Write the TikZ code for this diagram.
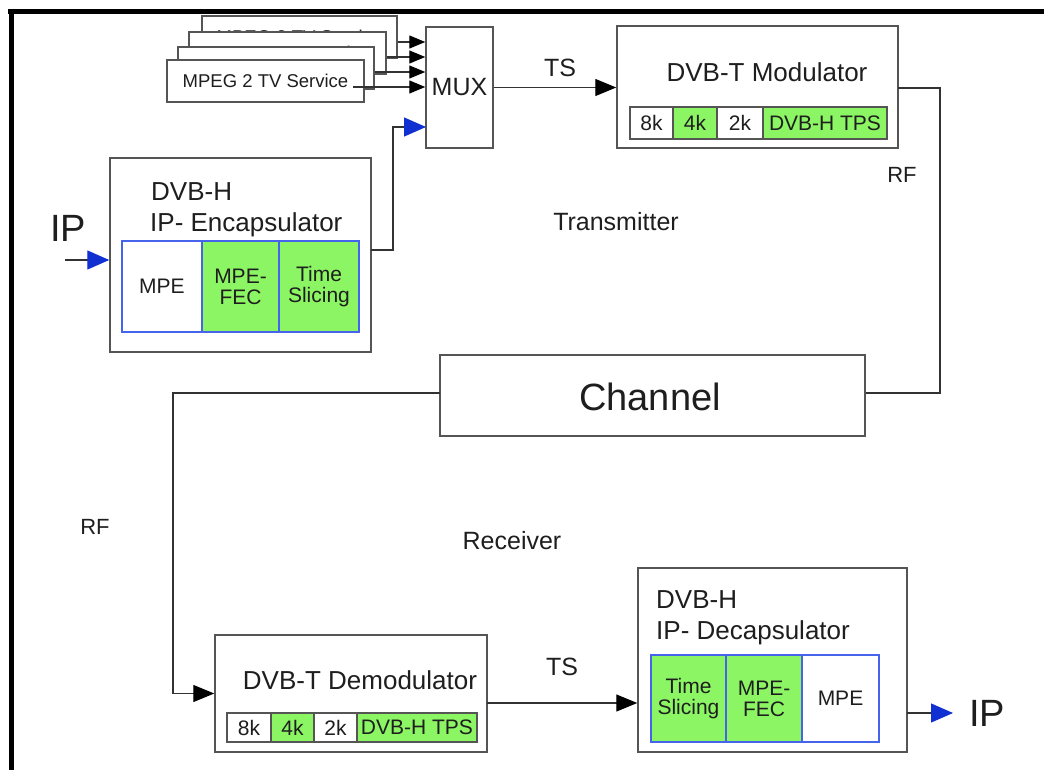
\documentclass[tikz,border=0pt]{standalone}
\usepackage{fontspec}
\setmainfont{Liberation Sans}
\usetikzlibrary{arrows.meta}
\definecolor{gfill}{RGB}{140,245,100}
\definecolor{cellblue}{RGB}{70,100,235}
\definecolor{arrblue}{RGB}{16,48,210}
\definecolor{boxgray}{RGB}{85,85,85}
\definecolor{linegray}{RGB}{50,50,50}
\definecolor{txt}{RGB}{30,30,30}
\newcommand{\fs}[1]{\fontsize{#1}{#1}\selectfont}
\tikzset{
  box/.style={draw=boxgray, line width=1.5pt, fill=white, inner sep=0pt, rectangle},
  cell/.style={draw=boxgray, line width=1.2pt, inner sep=0pt, rectangle, text=txt, font=\fs{21}},
  bcell/.style={draw=cellblue, line width=1.2pt, inner sep=0pt, rectangle, text=txt, font=\fs{21}, align=center},
  conn/.style={draw=linegray, line width=1.3pt},
  arr/.style={conn, -{Triangle[length=21pt,width=17pt,color=black]}},
  sarr/.style={conn, -{Triangle[length=16pt,width=13pt,color=black]}},
  barr/.style={conn, -{Triangle[length=22pt,width=19pt,color=arrblue]}},
  lbl/.style={text=txt, inner sep=0pt},
}
\begin{document}
\begin{tikzpicture}[x=1pt,y=-1pt]
\useasboundingbox (0,0) rectangle (1044,770);
% frame
\draw[line width=5pt] (8,11.5) -- (1044,11.5);
\draw[line width=5pt] (11.5,9) -- (11.5,770);

% MPEG boxes (back to front)
\node[box, minimum width=195pt, minimum height=42pt, font=\fs{18.5}, text=txt] (s4) at (299.5,37) {MPEG 2 TV Service};
\node[box, minimum width=197pt, minimum height=42pt, font=\fs{18.5}, text=txt] (s3) at (287.5,53) {MPEG 2 TV Service};
\node[box, minimum width=196pt, minimum height=42pt, font=\fs{18.5}, text=txt] (s2) at (276,68) {MPEG 2 TV Service};
\node[box, minimum width=197pt, minimum height=42pt, font=\fs{18.5}, text=txt] (s1) at (265.5,81) {MPEG 2 TV Service};

% MUX
\node[box, minimum width=67pt, minimum height=121pt, font=\fs{25}, text=txt] (mux) at (459.5,87.5) {MUX};

\draw[sarr] (s4.east) ++(0,5) coordinate (c4) -- (c4 -| mux.west);
\draw[sarr] (s3.east) ++(0,4) coordinate (c3) -- (c3 -| mux.west);
\draw[sarr] (s2.east) ++(0,4) coordinate (c2) -- (c2 -| mux.west);
\draw[sarr] (s1.east) ++(-12,6) coordinate (c1) -- (c1 -| mux.west);

% Modulator
\node[box, minimum width=281pt, minimum height=122pt] (mod) at (757.5,87) {};
\node[lbl, font=\fs{26}] (modt) at (767,72) {DVB-T Modulator};
\node[cell, minimum width=43pt, minimum height=32pt, fill=white] (m8) at (651.5,123) {8k};
\node[cell, minimum width=44pt, minimum height=32pt, fill=gfill] (m4) at (695,123) {4k};
\node[cell, minimum width=46pt, minimum height=32pt, fill=white] (m2) at (740,123) {2k};
\node[cell, minimum width=124pt, minimum height=32pt, fill=gfill] (mt) at (825,123) {DVB-H TPS};

\draw[arr] (mux.east) -- (mux.east -| mod.west);
\node[lbl, font=\fs{25}] (ts1) at (560,68) {TS};

% Encapsulator
\node[box, minimum width=261pt, minimum height=194pt] (enc) at (240.5,255) {};
\node[lbl, font=\fs{26}, anchor=west] (enct1) at (151,192) {DVB-H};
\node[lbl, font=\fs{26}, anchor=west] (enct2) at (150,225) {IP- Encapsulator};
\node[bcell, minimum width=80pt, minimum height=91pt, fill=white] (e1) at (162,286.5) {MPE};
\node[bcell, minimum width=77pt, minimum height=91pt, fill=gfill] (e2) at (240.5,286.5) {MPE-\\FEC};
\node[bcell, minimum width=80pt, minimum height=91pt, fill=gfill] (e3) at (319,286.5) {Time\\Slicing};

\coordinate (eo) at (371,250);
\coordinate (ev) at (393,250);
\coordinate (muxin) at (426,127);
\draw[barr] (eo) -- (ev) |- (muxin);

\coordinate (ipin) at (65,260);
\draw[barr] (ipin) -- (ipin -| enc.west);
\node[lbl, font=\fs{38}] (ip1) at (68,228) {IP};

\node[lbl, font=\fs{25}] (tx) at (616,222) {Transmitter};

% Channel
\node[box, minimum width=425pt, minimum height=81pt] (ch) at (652.5,395.5) {};
\node[lbl, font=\fs{38}] (cht) at (650,397) {Channel};

\coordinate (mo) at (898,88);
\coordinate (mr) at (940,88);
\coordinate (mrd) at (940,393);
\draw[conn] (mo) -- (mr) -- (mrd) -- (mrd -| ch.east);
\node[lbl, font=\fs{22}] (rf1) at (902,175) {RF};

% Demodulator
\node[box, minimum width=272pt, minimum height=117pt] (dem) at (351,693.5) {};
\node[lbl, font=\fs{26}] (demt) at (360,680) {DVB-T Demodulator};
\node[cell, minimum width=44pt, minimum height=29pt, fill=white] (d8) at (249,727.5) {8k};
\node[cell, minimum width=43pt, minimum height=29pt, fill=gfill] (d4) at (292.5,727.5) {4k};
\node[cell, minimum width=43pt, minimum height=29pt, fill=white] (d2) at (335.5,727.5) {2k};
\node[cell, minimum width=120pt, minimum height=29pt, fill=gfill] (dt) at (417,727.5) {DVB-H TPS};

\coordinate (cl) at (440,393);
\coordinate (cll) at (173,393);
\coordinate (cld) at (173,693.5);
\draw[arr] (cl) -- (cll) -- (cld) -- (dem.west);
\node[lbl, font=\fs{22}] (rf2) at (95,527) {RF};

\node[lbl, font=\fs{25}] (rx) at (512,541) {Receiver};

% Decapsulator
\node[box, minimum width=269pt, minimum height=184pt] (dec) at (772.5,660) {};
\node[lbl, font=\fs{26}, anchor=west] (dect1) at (656,600) {DVB-H};
\node[lbl, font=\fs{26}, anchor=west] (dect2) at (656,633) {IP- Decapsulator};
\node[bcell, minimum width=75pt, minimum height=87pt, fill=gfill] (x1) at (688.5,698.5) {Time\\Slicing};
\node[bcell, minimum width=76pt, minimum height=87pt, fill=gfill] (x2) at (764,698.5) {MPE-\\FEC};
\node[bcell, minimum width=77pt, minimum height=87pt, fill=white] (x3) at (840.5,698.5) {MPE};

\coordinate (dto) at (487,703);
\draw[arr] (dto) -- (dto -| dec.west);
\node[lbl, font=\fs{25}] (ts2) at (562,667) {TS};

\coordinate (ipo) at (907,713);
\coordinate (ipt) at (953,713);
\draw[barr] (ipo) -- (ipt);
\node[lbl, font=\fs{38}] (ip2) at (987,713) {IP};
\end{tikzpicture}
\end{document}
